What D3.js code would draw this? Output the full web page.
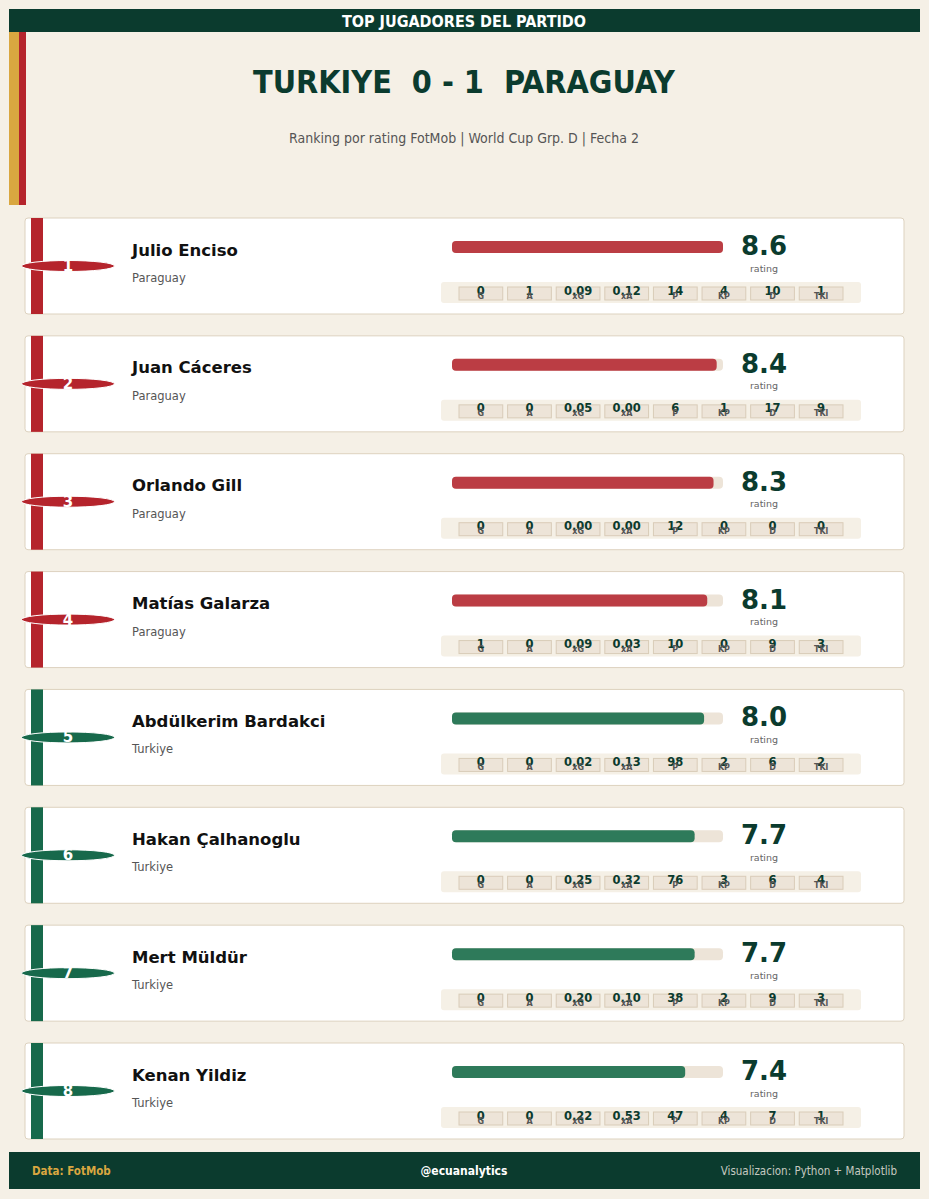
<!DOCTYPE html>
<html><head><meta charset="utf-8">
<script src="https://cdn.jsdelivr.net/npm/d3@7"></script>
<style>
html,body{margin:0;padding:0;background:#f5f0e6;}
svg{display:block;font-family:"DejaVu Sans",sans-serif;}
.cond{font-family:"DejaVu Sans Condensed","DejaVu Sans",sans-serif;font-stretch:condensed;white-space:pre;}
</style></head>
<body>
<script>
const players = ["Julio Enciso","Juan Cáceres","Orlando Gill","Matías Galarza","Abdülkerim Bardakci","Hakan Çalhanoglu","Mert Müldür","Kenan Yildiz"];
const teams = ["Paraguay","Paraguay","Paraguay","Paraguay","Turkiye","Turkiye","Turkiye","Turkiye"];
const ratings = [8.6,8.4,8.3,8.1,8.0,7.7,7.7,7.4];
const goals = [0,0,0,1,0,0,0,0];
const assists = [1,0,0,0,0,0,0,0];
const xG = ["0.09","0.05","0.00","0.09","0.02","0.25","0.20","0.22"];
const xA = ["0.12","0.00","0.00","0.03","0.13","0.32","0.10","0.53"];
const passes = [14,6,12,10,98,76,38,47];
const keyPasses = [4,1,0,0,2,3,2,4];
const duels = [10,17,0,9,6,6,9,7];
const tackles = [1,9,0,3,2,4,3,1];
const statLabels = ["G","A","xG","xA","P","KP","D","TKl"];

const W = 929, H = 1199;
const dark = "#0b3b2e";
const teamStripe = {"Paraguay":"#b5242c","Turkiye":"#17694b"};
const teamBar = {"Paraguay":"#bb3d44","Turkiye":"#2e7a5a"};

const svg = d3.select("body").append("svg").attr("width",W).attr("height",H);
svg.append("rect").attr("width",W).attr("height",H).attr("fill","#f5f0e6");

// header bar
svg.append("rect").attr("x",9).attr("y",9).attr("width",911).attr("height",23).attr("fill",dark);
svg.append("text").attr("class","cond").attr("x",464).attr("y",21).attr("text-anchor","middle")
  .attr("dominant-baseline","central").attr("fill","#fff").attr("font-weight","bold").attr("font-size",16)
  .text("TOP JUGADORES DEL PARTIDO");
// left stripes
svg.append("rect").attr("x",9).attr("y",32).attr("width",10).attr("height",173).attr("fill","#d9a740");
svg.append("rect").attr("x",19).attr("y",32).attr("width",7).attr("height",173).attr("fill","#b5242c");
// title
svg.append("text").attr("class","cond").attr("x",464).attr("y",82).attr("text-anchor","middle")
  .attr("dominant-baseline","central").attr("fill",dark).attr("font-weight","bold").attr("font-size",32)
  .text("TURKIYE  0 - 1  PARAGUAY");
svg.append("text").attr("class","cond").attr("x",464).attr("y",138).attr("text-anchor","middle")
  .attr("dominant-baseline","central").attr("fill","#555").attr("font-size",14)
  .text("Ranking por rating FotMob | World Cup Grp. D | Fecha 2");

// scales
const yCard = d3.scaleLinear().domain([0,7]).range([218,1043]);
const xBar = d3.scaleLinear().domain([0,d3.max(ratings)]).range([452,723]);
const xStat = d3.scaleBand().domain(statLabels).range([457,841]).paddingInner(0.1).paddingOuter(0);

const rows = players.map((p,i)=>({
  name:p, team:teams[i], rating:ratings[i], rank:i+1,
  stats:[String(goals[i]),String(assists[i]),xG[i],xA[i],String(passes[i]),String(keyPasses[i]),String(duels[i]),String(tackles[i])]
}));

const card = svg.selectAll("g.card").data(rows).enter().append("g")
  .attr("class","card").attr("transform",(d,i)=>`translate(0,${yCard(i)})`);

card.append("rect").attr("x",25).attr("y",0).attr("width",879).attr("height",96).attr("rx",3)
  .attr("fill","#fff").attr("stroke","#ddd2bf").attr("stroke-width",1);
card.append("rect").attr("x",31).attr("y",0).attr("width",12).attr("height",96)
  .attr("fill",d=>teamStripe[d.team]);
card.append("ellipse").attr("cx",68).attr("cy",48).attr("rx",46.5).attr("ry",5.5)
  .attr("fill",d=>teamStripe[d.team]).attr("stroke","#fff").attr("stroke-width",1);
card.append("text").attr("x",68).attr("y",48).attr("text-anchor","middle").attr("dominant-baseline","central")
  .attr("fill","#fff").attr("font-weight","bold").attr("font-size",15).text(d=>d.rank);

card.append("text").attr("x",132).attr("y",32).attr("dominant-baseline","central")
  .attr("fill","#111").attr("font-weight","bold").attr("font-size",16.5).text(d=>d.name);
card.append("text").attr("x",132).attr("y",60).attr("dominant-baseline","central")
  .attr("fill","#555").attr("font-size",11.5).text(d=>d.team);

// rating bar
card.append("rect").attr("x",xBar(0)).attr("y",23).attr("height",12).attr("rx",4)
  .attr("fill","#ede4d8").attr("width",xBar(d3.max(ratings))-xBar(0));
card.append("rect").attr("x",xBar(0)).attr("y",23).attr("height",12).attr("rx",4)
  .attr("width",d=>xBar(d.rating)-xBar(0)).attr("fill",d=>teamBar[d.team]);
card.append("text").attr("x",764).attr("y",28).attr("text-anchor","middle").attr("dominant-baseline","central")
  .attr("fill",dark).attr("font-weight","bold").attr("font-size",26).text(d=>d.rating.toFixed(1));
card.append("text").attr("x",764).attr("y",50).attr("text-anchor","middle").attr("dominant-baseline","central")
  .attr("fill","#666").attr("font-size",9.5).text("rating");

// stats panel
card.append("rect").attr("x",441).attr("y",64).attr("width",420).attr("height",21).attr("rx",3).attr("fill","#f5f0e6");
const st = card.selectAll("g.stat").data(d=>d.stats.map((v,k)=>({v,l:statLabels[k]}))).enter().append("g").attr("class","stat");
st.append("rect").attr("x",d=>xStat(d.l)+2).attr("y",69).attr("width",xStat.bandwidth()).attr("height",13)
  .attr("fill","#ede4d8").attr("stroke","#d9ccb8").attr("stroke-width",1);
st.append("text").attr("x",d=>xStat(d.l)+2+xStat.bandwidth()/2).attr("y",72.5).attr("text-anchor","middle").attr("dominant-baseline","central")
  .attr("fill",dark).attr("font-weight","bold").attr("font-size",11.5).text(d=>d.v);
st.append("text").attr("x",d=>xStat(d.l)+2+xStat.bandwidth()/2).attr("y",78).attr("text-anchor","middle").attr("dominant-baseline","central")
  .attr("fill","#555").attr("font-weight","bold").attr("font-size",8).text(d=>d.l);

// footer
svg.append("rect").attr("x",9).attr("y",1152).attr("width",911).attr("height",37).attr("fill",dark);
svg.append("text").attr("class","cond").attr("x",32).attr("y",1171).attr("dominant-baseline","central")
  .attr("fill","#d9a740").attr("font-weight","bold").attr("font-size",11.5).text("Data: FotMob");
svg.append("text").attr("class","cond").attr("x",464).attr("y",1171).attr("text-anchor","middle").attr("dominant-baseline","central")
  .attr("fill","#fff").attr("font-weight","bold").attr("font-size",12).text("@ecuanalytics");
svg.append("text").attr("class","cond").attr("x",897).attr("y",1171).attr("text-anchor","end").attr("dominant-baseline","central")
  .attr("fill","#c5c9c0").attr("font-size",11.5).text("Visualizacion: Python + Matplotlib");
</script>
</body></html>
